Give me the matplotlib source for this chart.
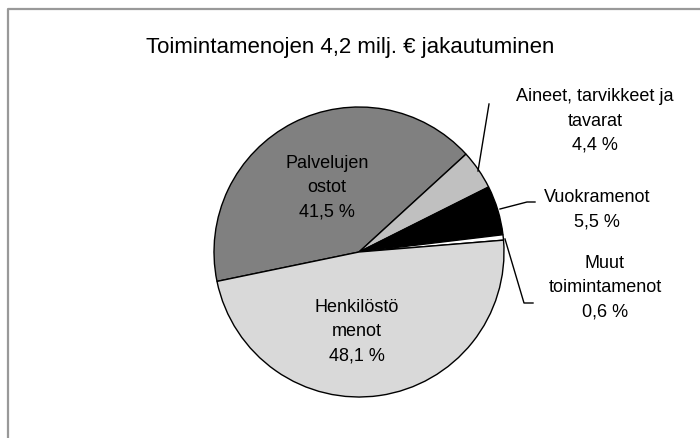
import matplotlib
matplotlib.use("Agg")
import matplotlib.pyplot as plt
from matplotlib import font_manager

labels = ["Palvelujen\nostot", "Aineet, tarvikkeet ja\ntavarat", "Vuokramenot", "Muut\ntoimintamenot", "Henkilöstö\nmenot"]
shares = [41.5, 4.4, 5.5, 0.6, 48.1]
colors = ["#808080", "#c0c0c0", "#000000", "#ffffff", "#d9d9d9"]

names = {f.name for f in font_manager.fontManager.ttflist}
fam = ["Liberation Sans Narrow", "DejaVu Sans"] if "Liberation Sans Narrow" in names else ["Liberation Sans", "DejaVu Sans"]
plt.rcParams["font.family"] = fam

W, H = 700, 439
fig = plt.figure(figsize=(7, 4.39), dpi=100)
ax = fig.add_axes([0, 0, 1, 1])
ax.set_aspect("equal")

def py(y):
    return H - y

# frame (top and left only visible)
ax.plot([8, 8, W], [0, py(10), py(10)], color="#999999", lw=1.6, solid_capstyle="butt")

ax.text(350, py(47), "Toimintamenojen 4,2 milj. € jakautuminen", ha="center", va="center", fontsize=16)

wedges, _ = ax.pie(shares, colors=colors, startangle=191.7, counterclock=False,
                   center=(359, py(253)), radius=145, frame=True,
                   wedgeprops=dict(edgecolor="black", linewidth=1))
ax.set_xlim(0, W)
ax.set_ylim(0, H)
ax.axis("off")

fs = 13
ls = 1.55
pcts = [f"{v:.1f}".replace(".", ",") + " %" for v in shares]

# inside labels
ax.text(327, py(188), labels[0] + "\n" + pcts[0], ha="center", va="center", fontsize=fs, linespacing=ls)
ax.text(357, py(332), labels[4] + "\n" + pcts[4], ha="center", va="center", fontsize=fs, linespacing=ls)

# outside labels
ax.text(595, py(121), labels[1] + "\n" + pcts[1], ha="center", va="center", fontsize=fs, linespacing=ls)
ax.text(597, py(210), labels[2] + "\n" + pcts[2], ha="center", va="center", fontsize=fs, linespacing=ls)
ax.text(605, py(288), labels[3] + "\n" + pcts[3], ha="center", va="center", fontsize=fs, linespacing=ls)

# leader lines
ax.plot([478, 489], [py(172), py(105)], color="black", lw=1)
ax.plot([500, 527, 535], [py(210), py(203), py(203)], color="black", lw=1)
ax.plot([505, 524, 533], [py(240), py(304), py(304)], color="black", lw=1)

fig.savefig("out.png", dpi=100)
